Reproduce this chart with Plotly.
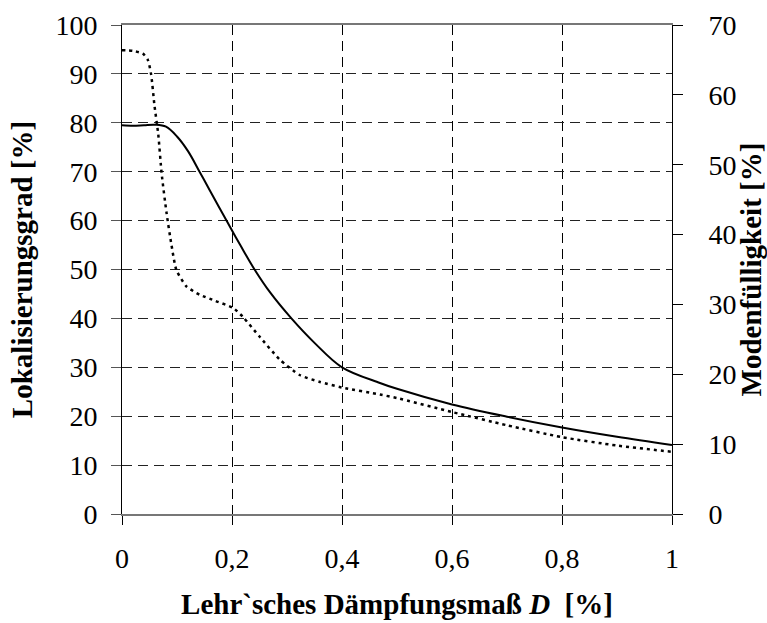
import plotly.graph_objects as go

# Solid line: Lokalisierungsgrad [%] (left axis)
d_solid = [0, 0.02, 0.04, 0.06, 0.08, 0.1, 0.12, 0.141, 0.16, 0.19, 0.215, 0.241, 0.27, 0.308, 0.35, 0.4,
           0.469, 0.5, 0.6, 0.7, 0.8, 0.9, 1.0]
lok = [79.5, 79.4, 79.5, 79.6, 79.2, 77.2, 74.2, 70.0, 66.1, 60.0, 55.0, 50.0, 45.2, 40.0, 35.0, 30.0,
       26.8, 25.6, 22.4, 19.9, 17.7, 15.8, 14.1]

# Dotted line: Modenfülligkeit [%] (right axis)
d_dot = [0, 0.02, 0.038, 0.047, 0.053, 0.059, 0.066, 0.072, 0.081, 0.09, 0.099, 0.117, 0.141,
         0.17, 0.202, 0.22, 0.25, 0.287, 0.323, 0.36, 0.4, 0.469, 0.5, 0.6, 0.7, 0.8, 0.9, 1.0]
mod = [66.4, 66.3, 65.9, 65.0, 62.9, 58.5, 54.3, 48.8, 43.1, 38.5, 34.9, 32.6, 31.4,
       30.5, 29.5, 28.2, 25.4, 22.1, 19.9, 18.9, 18.1, 17.1, 16.6, 14.6, 12.7, 11.0, 9.8, 8.9]

x_ticks = [0, 0.2, 0.4, 0.6, 0.8, 1]
x_labels = ["0", "0,2", "0,4", "0,6", "0,8", "1"]

FONT = "Liberation Serif"
TICK = 28
TITLE = 29

fig = go.Figure()
fig.add_trace(go.Scatter(x=d_solid, y=lok, mode="lines", yaxis="y",
                         line=dict(color="black", width=2, shape="spline", smoothing=1.0),
                         showlegend=False, hoverinfo="skip"))
fig.add_trace(go.Scatter(x=d_dot, y=mod, mode="lines", yaxis="y2",
                         line=dict(color="black", width=2.5, dash="3px,4px", shape="spline", smoothing=0.6),
                         showlegend=False, hoverinfo="skip"))

fig.update_layout(
    width=767, height=623,
    margin=dict(l=122, r=95, t=25, b=109),
    plot_bgcolor="white", paper_bgcolor="white",
    font=dict(family=FONT, color="black", size=TICK),
    xaxis=dict(
        range=[0, 1], tickvals=x_ticks, ticktext=x_labels, automargin=False,
        showgrid=True, gridcolor="black", gridwidth=1, griddash="10px,6px",
        showline=True, linecolor="#777777", linewidth=1.5, mirror=True,
        ticks="outside", ticklen=9, tickcolor="black", tickwidth=1,
        ticklabelstandoff=10, zeroline=False,
        tickfont=dict(family=FONT, size=TICK),
        title=dict(text="<b>Lehr`sches Dämpfungsmaß <i>D</i>\u00a0\u00a0[%]</b>",
                   font=dict(family=FONT, size=TITLE), standoff=20),
    ),
    yaxis=dict(
        range=[0, 100], dtick=10, automargin=False,
        showgrid=True, gridcolor="#222222", gridwidth=1, griddash="10px,6px",
        showline=True, linecolor="black", linewidth=1,
        ticks="outside", ticklen=10, tickcolor="#555555", tickwidth=1,
        ticklabelstandoff=8, zeroline=False,
        tickfont=dict(family=FONT, size=TICK),
        title=dict(text="<b>Lokalisierungsgrad [%]</b>",
                   font=dict(family=FONT, size=TITLE), standoff=14),
    ),
    yaxis2=dict(
        range=[0, 70], dtick=10, overlaying="y", side="right", automargin=False,
        showgrid=False, showline=True, linecolor="black", linewidth=1,
        ticks="outside", ticklen=10, tickcolor="black", tickwidth=1,
        ticklabelstandoff=20, zeroline=False,
        tickfont=dict(family=FONT, size=TICK),
        title=dict(text="<b>Modenfülligkeit [%]</b>",
                   font=dict(family=FONT, size=TITLE), standoff=10),
    ),
    yaxis3=dict(
        range=[0, 70], dtick=10, overlaying="y", side="right", automargin=False,
        showgrid=False, showline=False, showticklabels=False,
        ticks="inside", ticklen=10, tickcolor="black", tickwidth=1,
        zeroline=False,
    ),
)

fig.write_html("out.html", config={"displayModeBar": False},
               post_script="document.body.style.margin='0';document.body.style.overflow='hidden';")
